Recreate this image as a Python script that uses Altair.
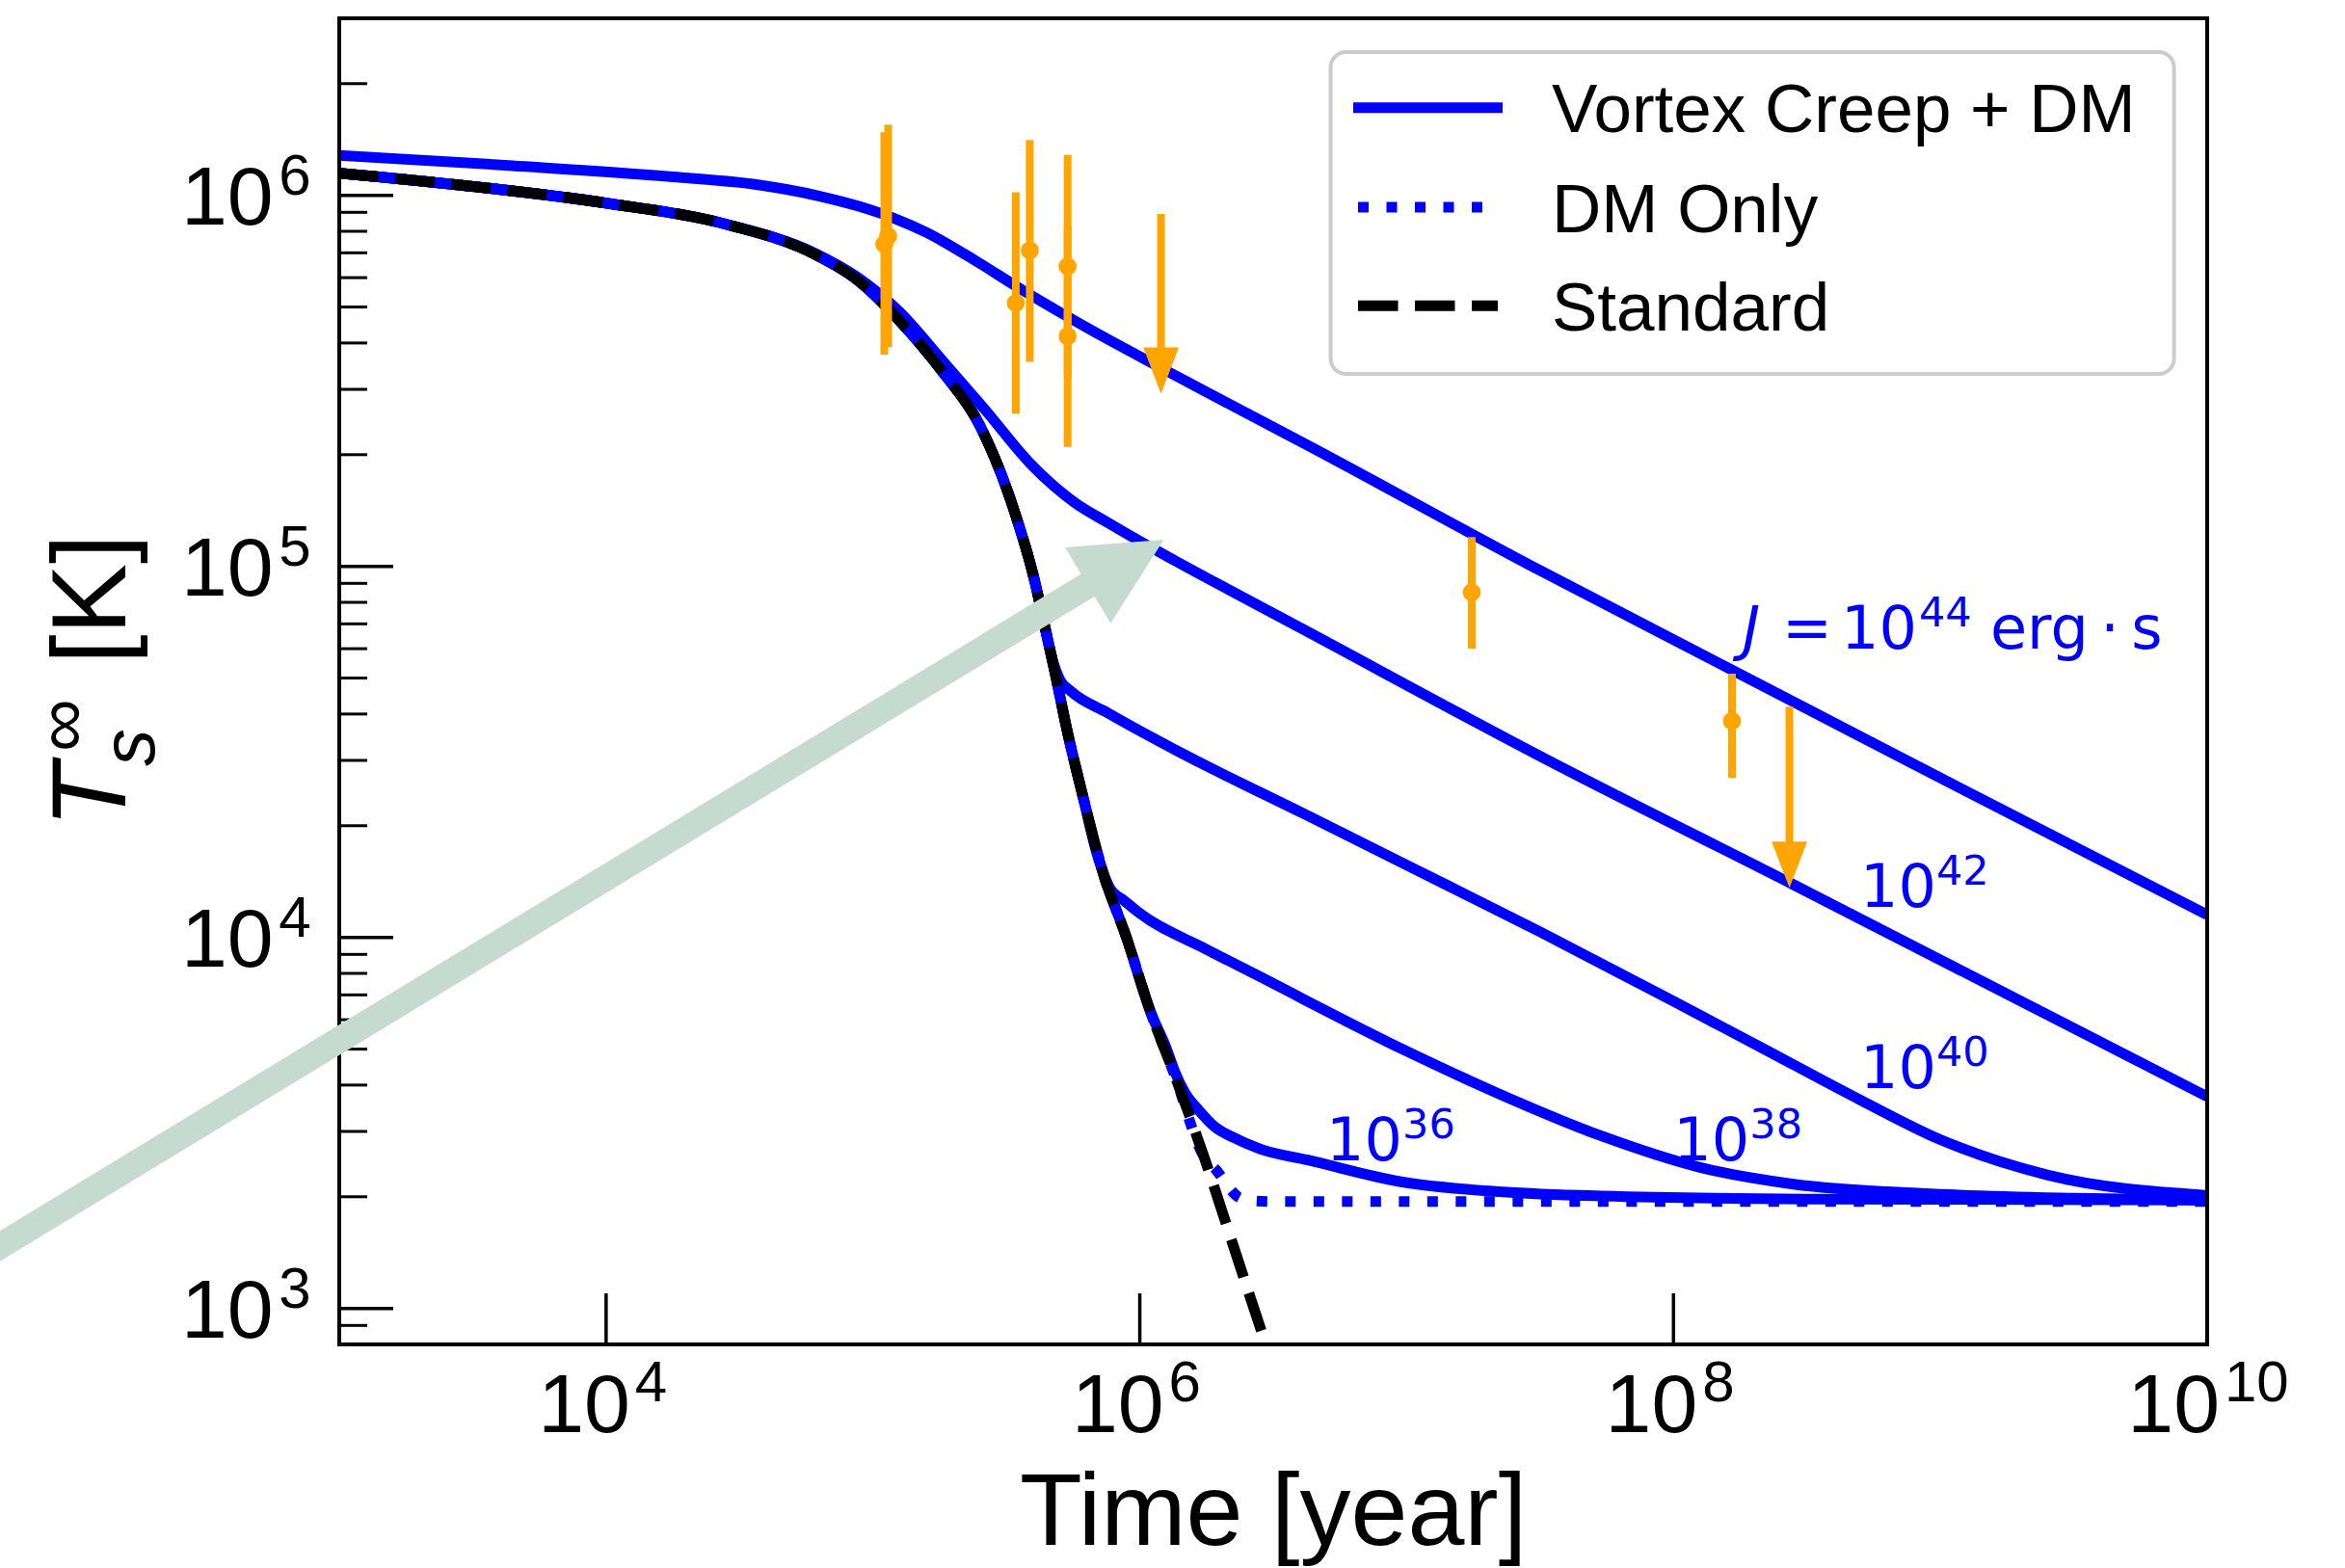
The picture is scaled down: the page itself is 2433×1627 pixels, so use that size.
import altair as alt
import pandas as pd

BLUE = "#0000ff"
ORANGE = "#ffa500"
GREEN = "#c6dbcf"
SANS = "Liberation Sans"
MATH = "DejaVu Sans"

W, H = 1938, 1376

# ---------------- axis ranges ----------------
x_domain = [1e3, 1e10]
y_domain = [800, 3e6]

# ---------------- model curves: time [yr], T [K] ----------------
std_t = [1e3, 3162, 1.0e4, 2.884e4, 6.03e4, 8.71e4, 1.259e5, 1.82e5, 2.512e5, 3.311e5,
         4.07e5, 4.37e5, 4.79e5, 5.37e5, 6.17e5, 7.24e5, 8.91e5, 1.096e6, 1.349e6,
         1.738e6, 2.239e6, 2.884e6, 3.548e6]
std_T = [1.148e6, 1.057e6, 9.53e5, 8.32e5, 6.95e5, 5.93e5, 4.59e5, 3.35e5, 2.40e5, 1.479e5,
         8.913e4, 7.079e4, 5.248e4, 3.548e4, 2.344e4, 1.514e4, 1.0e4, 6310, 4266,
         2570, 1479, 851, 550]

dm_tail_t = [1.950e6, 2.138e6, 2.344e6, 2.630e6, 3.162e6, 1e10]
dm_tail_T = [2344, 2138, 1995, 1950, 1941, 1941]

j44_t = [1e3, 4467, 1.778e4, 3.548e4, 6.31e4, 8.913e4, 1.202e5, 1.585e5, 2.239e5, 3.715e5,
         6.457e5, 1.23e6, 4.365e6, 3.162e7, 1.622e8, 1e9, 1e10]
j44_T = [1.282e6, 1.202e6, 1.122e6, 1.072e6, 9.95e5, 9.33e5, 8.67e5, 7.943e5, 6.90e5, 5.50e5,
         4.365e5, 3.396e5, 2.099e5, 9.75e4, 5.30e4, 2.69e4, 1.151e4]

j42_t = [1e3, 3162, 1e4, 2.884e4, 6.03e4, 8.71e4, 1.259e5, 1.82e5, 2.661e5, 3.890e5,
         5.754e5, 7.586e5, 1e6, 1.349e6, 4.074e6, 3.162e7, 2.818e8, 1e10]
j42_T = [1.148e6, 1.057e6, 9.53e5, 8.32e5, 7.00e5, 6.03e5, 4.85e5, 3.589e5, 2.618e5, 1.892e5,
         1.479e5, 1.312e5, 1.169e5, 1.038e5, 6.78e4, 3.08e4, 1.387e4, 3724]

j40_tail_t = [4.365e5, 4.677e5, 5.012e5, 5.495e5, 7.586e5, 1.349e6, 4.074e6, 1e7, 3.162e7,
              1e8, 2.138e8, 5.012e8, 1e9, 2.512e9, 1e10]
j40_tail_T = [7.08e4, 5.69e4, 4.955e4, 4.62e4, 4.03e4, 3.21e4, 2.163e4, 1.567e4, 1.035e4,
              6730, 5047, 3648, 2851, 2291, 2018]

j38_tail_t = [6.761e5, 7.244e5, 7.762e5, 8.71e5, 1e6, 1.778e6, 2.754e6, 9.772e6, 2.291e7,
              5.370e7, 1.259e8, 2.818e8, 8.511e8, 3.162e9, 1e10]
j38_tail_T = [1.778e4, 1.514e4, 1.349e4, 1.259e4, 1.161e4, 9290, 7907, 4977, 3750,
              2917, 2399, 2163, 2042, 1982, 1959]

j36_tail_t = [1.259e6, 1.349e6, 1.479e6, 1.660e6, 1.905e6, 2.239e6, 2.818e6, 4.266e6,
              9.772e6, 2.291e7, 5.370e7, 3.162e8, 1e10]
j36_tail_T = [5012, 4365, 3802, 3428, 3090, 2891, 2692, 2512, 2188, 2061, 2009, 1972, 1959]

# ---------------- observations ----------------
obs_t = [1.103e5, 1.140e5, 3.43e5, 3.87e5, 5.365e5, 5.365e5, 1.754e7, 1.657e8]
obs_T = [7.39e5, 7.76e5, 5.13e5, 7.10e5, 6.44e5, 4.17e5, 8.51e4, 3.83e4]
obs_lo = [3.72e5, 3.90e5, 2.58e5, 3.56e5, 3.24e5, 2.10e5, 6.0e4, 2.69e4]
obs_hi = [1.479e6, 1.549e6, 1.019e6, 1.409e6, 1.285e6, 8.28e5, 1.2e5, 5.14e4]

ul_t = [1.201e6, 2.72e8]
ul_top = [8.91e5, 4.19e4]
ul_tip = [2.92e5, 1.36e4]

# ---------------- annotation text ----------------
jlab_t, jlab_T = [1.815e8], [5.986e4]
lab_t = [5.007e8, 5.007e8, 1.0e8, 5.0e6]
lab_T = [1.209e4, 3936, 2506, 2506]
lab_exp = ["42", "40", "38", "36"]

# arrow (annotation) in data coordinates
arrow_t = [50, 7.33e5]
arrow_T = [1430, 9.45e4]
arrow_tip_t, arrow_tip_T = [1.23e6], [1.18e5]

# ---------------- axis ticks ----------------
y_major = [1e3, 1e4, 1e5, 1e6]
y_exp = ["3", "4", "5", "6"]
y_minor = [900, 2000, 3000, 4000, 5000, 6000, 7000, 8000, 9000,
           2e4, 3e4, 4e4, 5e4, 6e4, 7e4, 8e4, 9e4,
           2e5, 3e5, 4e5, 5e5, 6e5, 7e5, 8e5, 9e5, 2e6]
x_major = [1e4, 1e6, 1e8, 1e10]
x_exp = ["4", "6", "8", "10"]

legend_labels = ["Vortex Creep + DM", "DM Only", "Standard"]

# ---------------- tables ----------------
rows = []
curve_defs = [
    ("J44", "vortex", j44_t, j44_T),
    ("J42", "vortex", j42_t, j42_T),
    ("J40", "vortex", std_t[:11] + j40_tail_t, std_T[:11] + j40_tail_T),
    ("J38", "vortex", std_t[:15] + j38_tail_t, std_T[:15] + j38_tail_T),
    ("J36", "vortex", std_t[:18] + j36_tail_t, std_T[:18] + j36_tail_T),
    ("DM", "dm", std_t[:20] + dm_tail_t, std_T[:20] + dm_tail_T),
    ("STD", "std", std_t, std_T),
]
for name, kind, ts, Ts in curve_defs:
    for a, b in zip(ts, Ts):
        rows.append({"t": a, "T": b, "curve": name, "kind": kind})
curves = pd.DataFrame(rows)

obs = pd.DataFrame({"t": obs_t, "T": obs_T, "lo": obs_lo, "hi": obs_hi})
ul = pd.DataFrame({"t": ul_t, "top": ul_top, "tip": ul_tip})
jlab = pd.DataFrame({"t": jlab_t, "T": jlab_T})
labs = pd.DataFrame({"t": lab_t, "T": lab_T, "e": lab_exp})
arrow = pd.DataFrame({"t": arrow_t, "T": arrow_T})
arrow_tip = pd.DataFrame({"t": arrow_tip_t, "T": arrow_tip_T})
ymaj = pd.DataFrame({"T": y_major, "e": y_exp})
ymin = pd.DataFrame({"T": y_minor})
xmaj = pd.DataFrame({"t": x_major, "e": x_exp, "n": [len(e) for e in x_exp]})
one = pd.DataFrame({"k": [0]})

xs = alt.Scale(type="log", domain=x_domain, nice=False)
ys = alt.Scale(type="log", domain=y_domain, nice=False)


def ex(f="t"):
    return alt.X(f"{f}:Q", scale=xs, axis=None)


def ey(f="T"):
    return alt.Y(f"{f}:Q", scale=ys, axis=None)


base_c = alt.Chart(curves)
vortex = base_c.transform_filter(alt.datum.kind == "vortex").mark_line(
    clip=True, color=BLUE, strokeWidth=11, strokeJoin="round", interpolate="monotone"
).encode(x=ex(), y=ey(), detail="curve:N", order=alt.Order("t:Q"))
dm = base_c.transform_filter(alt.datum.kind == "dm").mark_line(
    clip=True, color=BLUE, strokeWidth=11, strokeDash=[11, 18.5], interpolate="monotone"
).encode(x=ex(), y=ey(), order=alt.Order("t:Q"))
std = base_c.transform_filter(alt.datum.kind == "std").mark_line(
    clip=True, color="black", strokeWidth=11, strokeDash=[41, 17.5], interpolate="monotone"
).encode(x=ex(), y=ey(), order=alt.Order("t:Q"))

errbars = alt.Chart(obs).mark_rule(color=ORANGE, strokeWidth=8).encode(
    x=ex(), y=ey("lo"), y2="hi:Q")
points = alt.Chart(obs).mark_circle(color=ORANGE, size=350, opacity=1).encode(
    x=ex(), y=ey())
ul_rule = alt.Chart(ul).mark_rule(color=ORANGE, strokeWidth=8, y2Offset=-20).encode(
    x=ex(), y=ey("top"), y2="tip:Q")
ul_head = alt.Chart(ul).mark_point(
    shape="M-0.77,-2L0.77,-2L0,0Z", size=2304, filled=True, color=ORANGE,
    opacity=1, strokeWidth=0
).encode(x=ex(), y=ey("tip"))


# curve annotations
def mtext(df, text, dx=0, dy=0, size=62, italic=False):
    kw = dict(align="left", baseline="alphabetic", font=MATH, fontSize=size,
              color=BLUE, dx=dx, dy=dy)
    if italic:
        kw["fontStyle"] = "italic"
    return alt.Chart(df).mark_text(**kw).encode(x=ex(), y=ey(), text=text)


jtexts = [
    mtext(jlab, alt.value("J"), dx=0, italic=True),
    mtext(jlab, alt.value("="), dx=41),
    mtext(jlab, alt.value("10"), dx=102),
    mtext(jlab, alt.value("44"), dx=183, dy=-23, size=43),
    mtext(jlab, alt.value("erg\u2009\u00b7\u2009s"), dx=257),
]
ltexts = [
    mtext(labs, alt.value("10")),
    mtext(labs, "e:N", dx=79, dy=-23, size=43),
]

# axes: ticks (inward) and labels
ytick_major = alt.Chart(ymaj).mark_rule(color="black", strokeWidth=3.5).encode(
    y=ey(), x=alt.value(0), x2=alt.value(56))
ytick_minor = alt.Chart(ymin).mark_rule(color="black", strokeWidth=3).encode(
    y=ey(), x=alt.value(0), x2=alt.value(29))
xtick_major = alt.Chart(xmaj).mark_rule(color="black", strokeWidth=3.5).encode(
    x=ex(), y=alt.value(H), y2=alt.value(H - 53))

ylab_base = alt.Chart(ymaj).mark_text(
    align="right", baseline="alphabetic", font=SANS, fontSize=86, dy=30.7, color="black"
).encode(y=ey(), x=alt.value(-68.3), text=alt.value("10"))
ylab_exp = alt.Chart(ymaj).mark_text(
    align="right", baseline="alphabetic", font=SANS, fontSize=60, dy=-1, color="black"
).encode(y=ey(), x=alt.value(-29.4), text="e:N")

xlab_layers = []
for n, d_base, d_exp in [(1, 25, 30), (2, 13, 18)]:
    src = alt.Chart(xmaj).transform_filter(alt.datum.n == n)
    xlab_layers.append(src.mark_text(
        align="right", baseline="alphabetic", font=SANS, fontSize=86, dx=d_base, color="black"
    ).encode(x=ex(), y=alt.value(1466.6), text=alt.value("10")))
    xlab_layers.append(src.mark_text(
        align="left", baseline="alphabetic", font=SANS, fontSize=60, dx=d_exp, color="black"
    ).encode(x=ex(), y=alt.value(1434.5), text="e:N"))

xtitle = alt.Chart(one).mark_text(
    align="center", baseline="alphabetic", font=SANS, fontSize=106, color="black"
).encode(x=alt.value(W / 2), y=alt.value(1584), text=alt.value("Time [year]"))


def ytitle_piece(text, x, y, size, italic=False):
    kw = dict(align="left", baseline="alphabetic", font=SANS, fontSize=size,
              angle=270, color="black")
    if italic:
        kw["fontStyle"] = "italic"
    return alt.Chart(one).mark_text(**kw).encode(
        x=alt.value(x), y=alt.value(y), text=alt.value(text))


ytitle = [
    ytitle_piece("T", -222, 840, 110, italic=True),
    ytitle_piece("s", -192, 776, 77, italic=True),
    ytitle_piece("\u221e", -262, 761, 77),
    ytitle_piece("[K]", -222, 670, 110),
]

frame = alt.Chart(one).mark_rect(fill="transparent", stroke="black", strokeWidth=4).encode(
    x=alt.value(0), x2=alt.value(W), y=alt.value(0), y2=alt.value(H))

# legend
leg_box = alt.Chart(one).mark_rect(
    fill="white", stroke="#cccccc", strokeWidth=4, cornerRadius=16
).encode(x=alt.value(1028.6), x2=alt.value(1903.6), y=alt.value(35), y2=alt.value(369))
leg_solid = alt.Chart(one).mark_rule(color=BLUE, strokeWidth=11).encode(
    x=alt.value(1052), x2=alt.value(1207), y=alt.value(92.7))
leg_dot = alt.Chart(one).mark_rule(color=BLUE, strokeWidth=11, strokeDash=[11, 18.5]).encode(
    x=alt.value(1057), x2=alt.value(1190), y=alt.value(196))
leg_dash = alt.Chart(one).mark_rule(color="black", strokeWidth=11, strokeDash=[41.5, 17.5]).encode(
    x=alt.value(1057), x2=alt.value(1202), y=alt.value(298.3))
leg_texts = [
    alt.Chart(one).mark_text(align="left", baseline="alphabetic", font=SANS,
                             fontSize=71, color="black").encode(
        x=alt.value(1258), y=alt.value(yb), text=alt.value(lbl))
    for lbl, yb in zip(legend_labels, [118.3, 221.7, 324.3])
]

# green arrow
shaft = alt.Chart(arrow).mark_line(color=GREEN, strokeWidth=27, strokeCap="butt").encode(
    x=ex(), y=ey(), order=alt.Order("t:Q"))
head = alt.Chart(arrow_tip).mark_point(
    shape="M0,0L-1,2L1,2Z", size=8464, angle=59, filled=True, color=GREEN,
    opacity=1, strokeWidth=0
).encode(x=ex(), y=ey())

layers = ([vortex, dm, std, errbars, points, ul_rule, ul_head] + jtexts + ltexts +
          [ytick_major, ytick_minor, xtick_major, frame, ylab_base, ylab_exp] +
          xlab_layers + [xtitle] + ytitle +
          [leg_box, leg_solid, leg_dot, leg_dash] + leg_texts + [shaft, head])

chart = alt.layer(*layers).properties(
    width=W, height=H,
    autosize=alt.AutoSizeParams(type="none"),
    padding={"left": 352, "top": 19, "right": 143, "bottom": 232},
    background="white",
).configure_view(strokeWidth=0)

chart.save("out.html", embed_options={"renderer": "svg", "actions": False})
